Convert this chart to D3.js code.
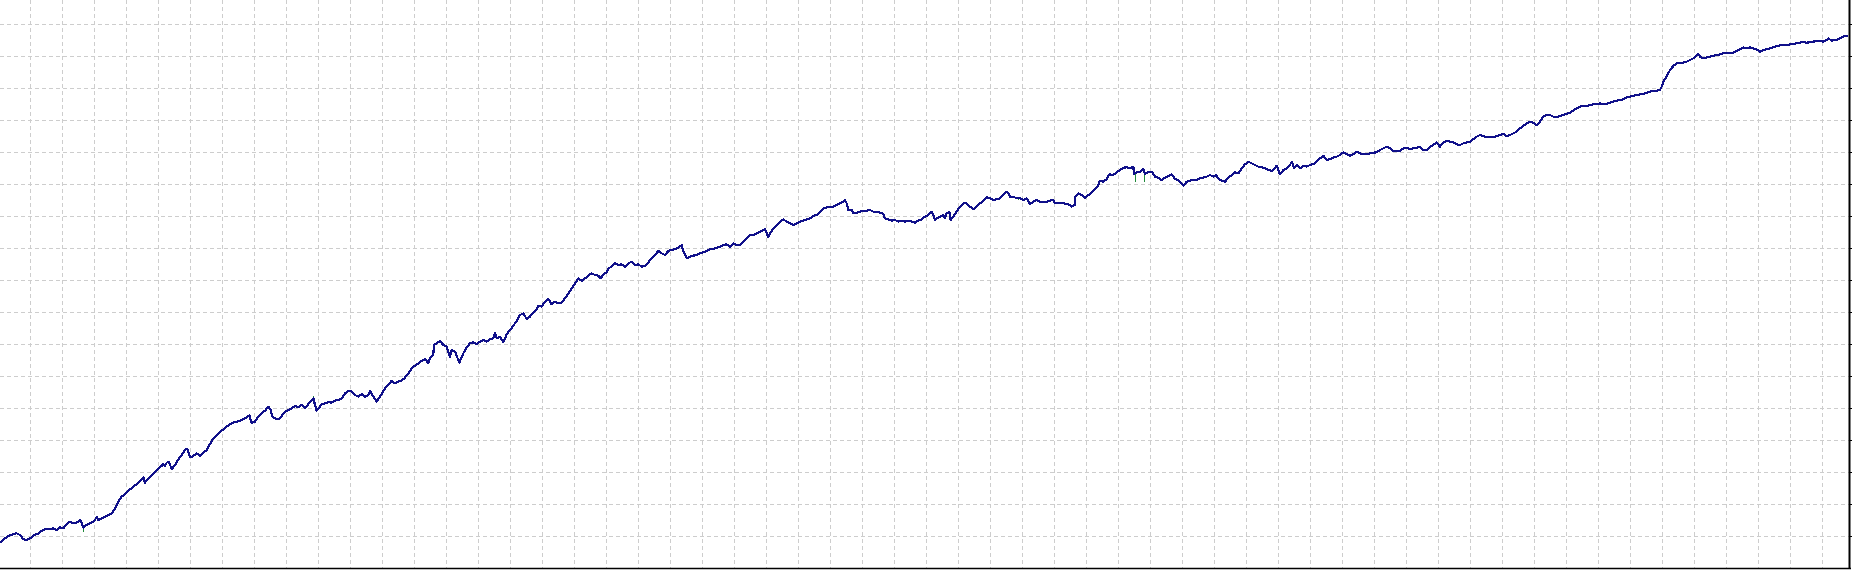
<!DOCTYPE html>
<html>
<head>
<meta charset="UTF-8">
<script src="https://d3js.org/d3.v7.min.js"></script>
<style>
  body { margin: 0; background: #ffffff; overflow: hidden; }
  svg { display: block; }
</style>
</head>
<body>
<svg width="1852" height="570"></svg>
<script>
// balance curve (trade number -> balance units)
const trades = [
  0,10,25,40,50,60,70,80,90,100, 108,115,125,135,150,160,170,180,190,200,
  210,220,230,240,245,250,255,265,275,285, 290,295,305,315,325,335,345,355,365,380,
  390,400,410,420,430,435,445,455,465,475, 485,490,495,500,507,515,525,535,545,555,
  562,570,580,590,600,610,620,630,640,650, 660,670,680,690,700,710,720,730,740,748,
  755,765,775,785,795,805,812,818,825,835, 845,855,865,875,885,895,905,915,925,935,
  940,945,950,958,965,975,985,995,1005,1015, 1025,1035,1045,1055,1065,1075,1085,1095,1105,
  1110,1120,1130,1140,1155,1165,1175,1185,1195,1205, 1215,1225,1235,1245,1255,1265,1275,1285,1290,1300,
  1302,1310,1320,1330,1340,1350,1355,1365,1378,1390, 1400,1410,1420,1430,1440,1450,1460,1470,1480,1485,
  1490,1500,1510,1520,1530,1540,1550,1560,1570,1580, 1590,1600,1610,1615,1625,1635,1645,1655,1665,1675,
  1685,1695,1705,1715,1725,1735,1745,1755,1765,1775, 1785,1795,1802,1810,1820,1825,1835,1845,1855,1865,
  1875,1885,1895,1905,1915,1925,1935,1945,1955,1965, 1975,1985,1995,2005,2015,2025,2035,2045,2050,2060,
  2070,2080,2090,2100,2110,2120,2130,2140,2150,2160, 2170,2180,2190,2200,2210,
  2220,2230,2240,2250,2260,2270,2280,2290,2295,2300, 2305,2310,2320,2330,2340,2350,2360,2370,2380,2390,
  2400,2410,2420,2430,2440,2450,2460,2470,2480,2490, 2500,2510,2520,2530,2535,2540,2545,2555,2560,2570,
  2580,2590,2600,2610,2620,2630,2640,2650,2655,2665, 2675,2685,2695,2705,2715,2725,2735,2745,2755,2765,
  2775,2785,2795,2800,2805,2810,2820,2830,2835,2840, 2848,2852,2860,2870,2880,2890,2900,2910,2920,2930,
  2940,2950,2960,2970,2980,2990,3000,3010,3020,3025, 3030,3040,3050,3060,3070,3080,3090,3100,3110,3120,
  3130,3140,3150,3160,3165,3175,3190,3205,3215,3224, 3226,3235,3245,3255,3265,3275,3285,3295,3300,3310,
  3320,3325,
  3330,3340,3350,3360,3370,3380,3390,3400,3402,3410, 3420,3430,3435,3445,3455,3465,3475,3485,3495,3505,
  3515,3525,3535,3545,3550,3560,3570,3580,3590,3600, 3610,3620,3630,3640,3648,3655,3665,3675,3685,3695,
  3705,3715,3725,3735,3745,3755,3765,3775,3785,3795, 3805,3815,3825,3830,3835,3840,3850,3860,3870,3875,
  3882,3890,3900,3910,3920,3930,3940,3950,3960,3970, 3980,3990,4000,4010,4020,4030,4040,4050,4060,4070,
  4080,4090,4100,4110,4120,4130,4140,4150,4160,4170, 4180,4190,4200,4210,4220,4230,4240,4250,4260,4270,
  4280,4290,4300,4310,4320,4330,4340,4350,4360,4370, 4380,4390,4400,4410,4420,4430,
  4440,4450,4460,4470,4480,4490,4500,4510,4520,4530, 4540,4550,4560,4570,4580,4590,4600,4610,4620,4630,
  4640,4650,4660,4670,4680,4690,4700,4710,4720,4730, 4740,4750,4760,4770,4780,4790,4800,4810,4820,4830,
  4840,4850,4860,4870,4880,4890,4900,4910,4920,4930, 4940,4950,4960,4970,4980,4985,4990,5000,5010,5020,
  5030,5040,5050,5060,5070,5080,5090,5095,5100,5110, 5120,5130,5140,5150,5160,5170,5180,5190,5200,5210,
  5220,5230,5240,5250,5260,5270,5280,5290,5300,5310, 5320,5330,5340,5350,5360,5370,5380,5390,5400,5410,
  5420,5430,5440,5450,5460,5470,5480,5485,5495,5505, 5515,5525,5535,5543
];
const balance = [
  76,86,96,102,104,99,86,84,89,96, 102,102,112,116,116,119,114,122,119,132,
  139,134,136,144,136,121,126,132,136,144, 154,144,149,154,159,164,179,199,214,226,
  236,244,252,261,272,256,269,279,289,299, 306,312,306,316,319,296,309,326,339,354,
  358,332,336,344,336,346,354,372,389,399, 409,416,424,431,437,439,442,446,452,458,
  436,439,454,464,472,484,474,452,449,446, 456,469,474,479,486,482,489,479,492,502,
  509,489,472,482,492,494,498,496,502,504, 509,524,532,529,519,514,522,514,519,
  531,514,499,514,539,549,562,554,559,562, 571,584,599,607,614,621,627,614,629,641,
  669,674,681,669,664,634,654,649,616,644, 661,674,677,671,679,684,679,687,689,704,
  689,694,677,701,714,727,741,759,764,747, 754,767,777,787,784,799,807,791,799,794,
  796,809,824,839,854,869,861,869,877,884, 879,877,869,881,887,899,904,914,909,911,
  904,914,919,909,911,904,907,917,929,939, 951,944,939,951,954,957,961,969,951,929,
  934,937,939,944,947,951,957,957,961,964, 969,971,964,974,969,
  969,979,989,999,999,1004,1009,1014,1016,1006, 992,1004,1019,1029,1039,1046,1039,1034,1029,1034,
  1039,1042,1046,1049,1056,1059,1069,1079,1082,1084, 1084,1089,1094,1099,1104,1094,1074,1074,1064,1066,
  1069,1071,1072,1074,1069,1069,1066,1062,1049,1046, 1042,1044,1039,1042,1039,1042,1039,1036,1042,1046,
  1054,1059,1069,1059,1044,1049,1054,1059,1049,1064, 1069,1044,1054,1069,1084,1094,1094,1084,1076,1084,
  1094,1102,1112,1109,1104,1106,1109,1119,1129,1124, 1114,1114,1109,1109,1104,1109,1092,1099,1104,1099,
  1099,1099,1102,1104,1094,1094,1094,1092,1084,1089, 1114,1124,1119,1111,1119,1126,1136,1149,1162,1159,
  1166,1176,
  1181,1179,1187,1194,1201,1202,1199,1204,1182,1187, 1189,1197,1183,1187,1189,1174,1171,1164,1171,1176,
  1181,1167,1164,1154,1147,1159,1162,1164,1164,1169, 1171,1174,1179,1174,1179,1169,1161,1159,1171,1179,
  1187,1184,1199,1211,1219,1214,1209,1204,1202,1199, 1194,1191,1199,1207,1194,1181,1194,1199,1209,1219,
  1201,1209,1199,1207,1204,1209,1212,1219,1229,1237, 1224,1227,1231,1234,1239,1247,1241,1237,1241,1249,
  1244,1241,1241,1244,1246,1247,1254,1259,1264,1259, 1251,1251,1251,1259,1261,1257,1259,1261,1264,1254,
  1254,1264,1269,1277,1264,1277,1281,1279,1277,1271, 1269,1274,1277,1279,1287,1294,
  1299,1296,1292,1294,1292,1296,1299,1302,1296,1299, 1304,1309,1319,1326,1334,1339,1336,1329,1339,1354,
  1359,1359,1354,1352,1356,1359,1362,1366,1372,1379, 1384,1386,1386,1389,1391,1392,1394,1392,1392,1396,
  1399,1402,1404,1406,1412,1414,1416,1419,1421,1422, 1426,1429,1432,1432,1434,1444,1459,1474,1494,1506,
  1514,1514,1516,1519,1524,1529,1539,1542,1534,1529, 1532,1534,1536,1539,1541,1544,1546,1544,1546,1552,
  1556,1562,1559,1562,1559,1556,1549,1554,1556,1559, 1562,1566,1568,1569,1569,1571,1572,1574,1576,1578,
  1576,1577,1579,1581,1582,1579,1584,1589,1582,1584, 1586,1592,1596,1597
];

// equity excursions (green) that stick out of the balance line
const equityTrades = [250, 940, 3054, 3081, 3404, 3433];
const equityValues = [109, 516, 1104, 1104, 1159, 1159];

// grid levels
const yTicks = [96,192,288,384,480,576,672,768,864,960,1056,1152,1248,1344,1440,1536,1632];
const xTicks = d3.range(90, 5556, 96);

if (trades.length !== balance.length) console.error("length mismatch", trades.length, balance.length);

const plotRight = 1850, plotBottom = 568;

const svg = d3.select("svg");

const x = d3.scaleLinear().domain([0, 5550]).range([0, plotRight]);
const y = d3.scaleLinear().domain([0, 1704]).range([plotBottom, 0]);

// grid
const grid = svg.append("g")
    .attr("stroke", "#cdcdcd")
    .attr("stroke-width", 1)
    .attr("stroke-dasharray", "4,3")
    .attr("shape-rendering", "crispEdges");

grid.selectAll(".hg").data(yTicks).enter().append("line")
    .attr("class", "hg")
    .attr("x1", 0).attr("x2", plotRight)
    .attr("y1", d => Math.round(y(d)) + 0.5)
    .attr("y2", d => Math.round(y(d)) + 0.5);

grid.selectAll(".vg").data(xTicks).enter().append("line")
    .attr("class", "vg")
    .attr("y1", 0).attr("y2", plotBottom)
    .attr("x1", d => Math.round(x(d)) + 0.5)
    .attr("x2", d => Math.round(x(d)) + 0.5);

// equity spikes
const bal = d3.scaleLinear().domain(trades).range(balance);
svg.append("g")
    .attr("stroke", "#1f8a3a")
    .attr("stroke-width", 1)
    .attr("shape-rendering", "crispEdges")
    .selectAll("line").data(equityTrades).enter().append("line")
    .attr("x1", d => Math.round(x(d)) + 0.5)
    .attr("x2", d => Math.round(x(d)) + 0.5)
    .attr("y1", d => y(bal(d)))
    .attr("y2", (d, i) => y(equityValues[i]));

// balance line
const line = d3.line()
    .x((d, i) => x(trades[i]))
    .y(d => y(d));

svg.append("path")
    .datum(balance)
    .attr("fill", "none")
    .attr("stroke", "#10108a")
    .attr("stroke-width", 2.2)
    .attr("stroke-linejoin", "round")
    .attr("shape-rendering", "crispEdges")
    .attr("d", line);

// frame
svg.append("line")
    .attr("x1", 0).attr("x2", plotRight + 1)
    .attr("y1", plotBottom + 0.5).attr("y2", plotBottom + 0.5)
    .attr("stroke", "#000").attr("stroke-width", 1.5);

svg.append("line")
    .attr("x1", plotRight - 0.5).attr("x2", plotRight - 0.5)
    .attr("y1", 0).attr("y2", plotBottom + 1)
    .attr("stroke", "#000").attr("stroke-width", 2);

// right axis ticks (labels fall outside the window)
const yAxis = d3.axisRight(y).tickValues(yTicks).tickSize(5).tickFormat("");
svg.append("g")
    .attr("transform", "translate(" + plotRight + ",0)")
    .call(yAxis)
    .call(g => g.select(".domain").remove())
    .call(g => g.selectAll("line").attr("stroke", "#000").attr("shape-rendering", "crispEdges"));
</script>
</body>
</html>
